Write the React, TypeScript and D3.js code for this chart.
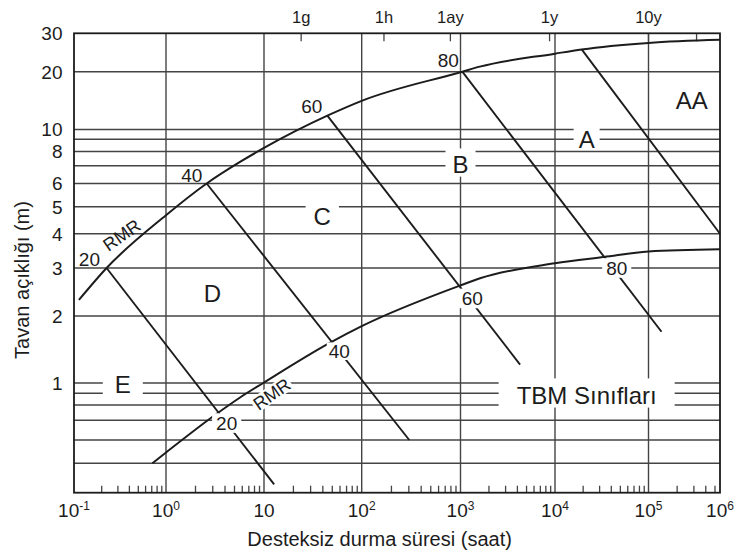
import React from 'react';
import * as d3 from 'd3';

const W = 735;
const H = 553;
const FONT = '"Liberation Sans", Arial, Helvetica, sans-serif';

// ---- axis calibration (reference axis is hand drawn / distorted) ----
const xKnotHours = [0.1, 1, 10, 100, 1000, 1e4, 1e5, 5e5, 1e6];
const yKnotSpan = [30, 20, 10, 9, 8, 7, 6, 5, 4, 3, 2, 1, 0.9, 0.8, 0.7, 0.6, 0.5, 0.4];

// ---- ticks / grid ----
const xGridHours = [1, 10, 100, 1000, 1e4, 1e5];
const yGridSpan = [20, 10, 9, 8, 7, 6, 5, 4, 3, 2, 1, 0.9, 0.8, 0.7, 0.6, 0.5];
const yTickSpan = [30, 20, 10, 8, 6, 5, 4, 3, 2, 1];
const xTickHours = [0.1, 1, 10, 100, 1000, 1e4, 1e5, 1e6];
const xTickBase = ['10', '10', '10', '10', '10', '10', '10', '10'];
const xTickSup = ['-1', '0', '', '2', '3', '4', '5', '6'];
const topTickHours = [24, 168, 790, 8760, 1e5, 3.2e5];
const topTickLabels = ['1g', '1h', '1ay', '1y', '10y', ''];

// ---- RMR envelope curves (hours, roof span m) ----
const upperHours = [0.113, 0.226, 1, 2.6, 5.69, 10, 44.5, 100, 1045, 1600, 10000, 19300, 100000, 1000000];
const upperSpan = [2.29, 3.0, 4.66, 6.0, 7.25, 8.28, 11.8, 14.1, 20, 21.1, 24.2, 25.3, 27.1, 28.0];
const lowerHours = [0.71, 1, 3.16, 5.7, 10, 46.6, 100, 1000, 1610, 10000, 33400, 100000, 1000000];
const lowerSpan = [0.5, 0.544, 0.733, 0.863, 1.005, 1.51, 1.8, 2.59, 2.75, 3.12, 3.29, 3.445, 3.51];

// ---- iso-RMR lines (20, 40, 60, 80 and A/AA boundary) ----
const isoStartHours = [0.226, 2.6, 44.5, 1045, 19300];
const isoStartSpan = [3.0, 6.0, 11.8, 20, 25.3];
const isoEndHours = [12.7, 303, 4270, 137000, 1000000];
const isoEndSpan = [0.426, 0.6, 1.21, 1.7, 4.0];

// ---- annotations ----
const rmrUpperText = ['20', '40', '60', '80'];
const rmrUpperHours = [0.147, 1.83, 30.8, 753];
const rmrUpperSpan = [3.23, 6.46, 13.3, 22.6];
const rmrLowerText = ['20', '40', '60', '80'];
const rmrLowerHours = [4.16, 59, 1333, 45700];
const rmrLowerSpan = [0.685, 1.39, 2.32, 3.0];
const rmrCurveLabelHours = [0.33, 12.0];
const rmrCurveLabelSpan = [3.96, 0.894];

const classText = ['AA', 'A', 'B', 'C', 'D', 'E', 'TBM Sınıfları'];
const classHours = [284000, 21800, 1000, 39.5, 2.97, 0.339, 21800];
const classSpan = [14.2, 9.0, 7.11, 4.63, 2.42, 0.983, 0.885];

// box paddings (style): [padX, padTop, padBottom] or null
const classBox: ([number, number, number] | null)[] = [
  null, [5, 5, 1], [7, 7, 4], [8, 7, 4], null, [12, 2, 5], [18, 8, 4],
];
const rmrLowerBox: [number, number, number][] = [
  [4, 3, 3], [2, 2, 2], [3, 3, 3], [4, 3, 3],
];

const lx = d3.scaleLinear()
  .domain(xKnotHours.map(Math.log10))
  .range([74, 166, 264, 361.7, 460.5, 555, 648.5, 715, 720]);
const ly = d3.scaleLinear()
  .domain(yKnotSpan.map(Math.log10))
  .range([33.3, 71.7, 129.5, 139.3, 151.5, 165.7, 183.5, 206.7, 233.7, 268, 316, 383, 393.3, 405, 420.3, 440, 463.3, 492.7]);
const X = (v: number) => lx(Math.log10(v));
const Y = (v: number) => ly(Math.log10(v));

let ctx: CanvasRenderingContext2D | null = null;
function measure(text: string, size: number) {
  if (!ctx) ctx = document.createElement('canvas').getContext('2d');
  if (!ctx) return text.length * size * 0.55;
  ctx.font = `${size}px ${FONT}`;
  return ctx.measureText(text).width;
}

const INK = '#1c1c1c';
const GRID = '#444';

function BoxedLabel(props: {
  cx: number; cy: number; text: string; size: number;
  box?: [number, number, number] | null; rotate?: number;
}) {
  const { cx, cy, text, size, box, rotate } = props;
  const cap = 0.716 * size;
  const w = measure(text, size);
  return (
    <g transform={`translate(${cx},${cy}) rotate(${rotate || 0})`}>
      {box && (
        <rect
          x={-w / 2 - box[0]}
          y={-cap / 2 - box[1]}
          width={w + 2 * box[0]}
          height={cap + box[1] + box[2]}
          fill="#fff"
        />
      )}
      <text x={0} y={cap / 2} textAnchor="middle" fontSize={size} fontFamily={FONT} fill={INK}>
        {text}
      </text>
    </g>
  );
}

export default function App() {
  const x0 = X(0.1), x1 = X(1e6), y0 = Y(30), y1 = Y(0.4);

  const minorTicks: number[] = [];
  for (let d = -1; d <= 5; d++) {
    for (let m = 2; m <= 9; m++) {
      const v = m * Math.pow(10, d);
      if (v <= 5e5) minorTicks.push(v);
    }
  }

  const curve = d3.line<[number, number]>()
    .x((d) => X(d[0]))
    .y((d) => Y(d[1]))
    .curve(d3.curveMonotoneX);

  const upperPts = upperHours.map((h, i) => [h, upperSpan[i]] as [number, number]);
  const lowerPts = lowerHours.map((h, i) => [h, lowerSpan[i]] as [number, number]);

  return (
    <svg width={W} height={H} style={{ position: 'absolute', left: 0, top: 0, background: '#fff' }}>
      <rect x={0} y={0} width={W} height={H} fill="#fff" />
      {/* horizontal grid */}
      {yGridSpan.map((v) => (
        <line key={'hy' + v} x1={x0} x2={x1} y1={Y(v)} y2={Y(v)} stroke={GRID} strokeWidth={1.4} />
      ))}
      {/* vertical grid */}
      {xGridHours.map((v) => (
        <line key={'vx' + v} x1={X(v)} x2={X(v)} y1={y0} y2={y1} stroke={GRID} strokeWidth={1.4} />
      ))}
      {/* bottom minor ticks */}
      {minorTicks.map((v) => (
        <line key={'mt' + v} x1={X(v)} x2={X(v)} y1={y1} y2={y1 - 7} stroke={GRID} strokeWidth={1.3} />
      ))}
      {/* top time ticks */}
      {topTickHours.map((v) => (
        <line key={'tt' + v} x1={X(v)} x2={X(v)} y1={y0} y2={y0 + 8} stroke={GRID} strokeWidth={1.3} />
      ))}
      {/* curves */}
      <path d={curve(upperPts) || ''} fill="none" stroke={INK} strokeWidth={2} />
      <path d={curve(lowerPts) || ''} fill="none" stroke={INK} strokeWidth={2} />
      {isoStartHours.map((h, i) => (
        <line
          key={'iso' + i}
          x1={X(h)} y1={Y(isoStartSpan[i])}
          x2={X(isoEndHours[i])} y2={Y(isoEndSpan[i])}
          stroke={INK} strokeWidth={1.9}
        />
      ))}
      {/* labels on upper curve */}
      {rmrUpperText.map((t, i) => (
        <BoxedLabel key={'ru' + i} cx={X(rmrUpperHours[i])} cy={Y(rmrUpperSpan[i])} text={t} size={19} />
      ))}
      {/* labels on lower curve */}
      {rmrLowerText.map((t, i) => (
        <BoxedLabel key={'rl' + i} cx={X(rmrLowerHours[i])} cy={Y(rmrLowerSpan[i])} text={t} size={19} box={rmrLowerBox[i]} />
      ))}
      <BoxedLabel cx={X(rmrCurveLabelHours[0])} cy={Y(rmrCurveLabelSpan[0])} text="RMR" size={18} rotate={-35} />
      <BoxedLabel cx={X(rmrCurveLabelHours[1])} cy={Y(rmrCurveLabelSpan[1])} text="RMR" size={18} rotate={-35} box={[1.5, 1.5, 1.5]} />
      {/* class labels */}
      {classText.map((t, i) => (
        <BoxedLabel key={'cl' + i} cx={X(classHours[i])} cy={Y(classSpan[i])} text={t} size={24} box={classBox[i]} />
      ))}
      {/* frame */}
      <rect x={x0} y={y0} width={x1 - x0} height={y1 - y0} fill="none" stroke={INK} strokeWidth={1.8} />
      {/* y tick labels */}
      {yTickSpan.map((v) => (
        <text key={'yl' + v} x={x0 - 11.5} y={Y(v)} dy="0.36em" textAnchor="end" fontSize={19} fontFamily={FONT} fill={INK}>
          {v}
        </text>
      ))}
      {/* x tick labels */}
      {xTickHours.map((v, i) => (
        <text key={'xl' + v} x={X(v)} y={y1 + 24.3} textAnchor="middle" fontSize={19} fontFamily={FONT} fill={INK}>
          {xTickBase[i]}
          {xTickSup[i] && (
            <tspan fontSize={12} dy={-7.5}>{xTickSup[i]}</tspan>
          )}
        </text>
      ))}
      {/* top time labels */}
      {topTickHours.map((v, i) => topTickLabels[i] ? (
        <text key={'tl' + v} x={X(v)} y={y0 - 10.6} textAnchor="middle" fontSize={16.5} fontFamily={FONT} fill={INK}>
          {topTickLabels[i]}
        </text>
      ) : null)}
      {/* axis titles */}
      <text x={379.6} y={546} textAnchor="middle" fontSize={20} fontFamily={FONT} fill={INK}>
        Desteksiz durma süresi (saat)
      </text>
      <text transform="translate(29,280) rotate(-90)" textAnchor="middle" fontSize={20} fontFamily={FONT} fill={INK}>
        Tavan açıklığı (m)
      </text>
    </svg>
  );
}
